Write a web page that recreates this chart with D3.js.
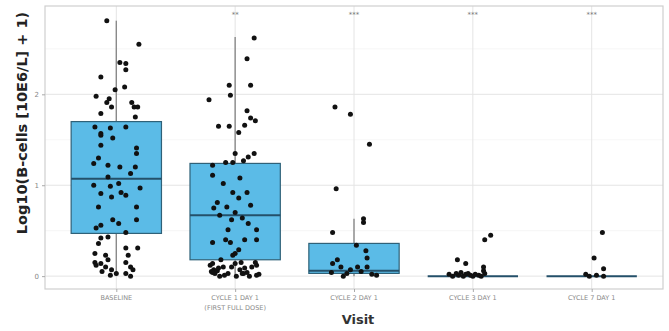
<!DOCTYPE html>
<html>
<head>
<meta charset="utf-8">
<script src="https://cdn.jsdelivr.net/npm/d3@7"></script>
<style>
    body { margin: 0; background: #fff; }
    svg { display: block; }
</style>
</head>
<body>
<div id="chart"></div>
<script>
// visits on the x axis, one array of text lines per tick label
const visits = ["BASELINE", "C1D1", "C2D1", "C3D1", "C7D1"];
const visitLabels = [
    ["BASELINE"],
    ["CYCLE 1 DAY 1", "(FIRST FULL DOSE)"],
    ["CYCLE 2 DAY 1"],
    ["CYCLE 3 DAY 1"],
    ["CYCLE 7 DAY 1"]
];
const signif = ["", "**", "***", "***", "***"];

// box summary per visit
const q1 = [0.47, 0.18, 0.03, 0, 0];
const median = [1.07, 0.67, 0.06, 0, 0];
const q3 = [1.70, 1.24, 0.36, 0, 0];
const whiskerLow = [0, 0, 0, 0, 0];
const whiskerHigh = [2.81, 2.63, 0.63, 0, 0];

const yTicks = [0, 1, 2];

// observed values (log10 scale) and their horizontal jitter (fraction of category spacing)
const baselineValues = [2.81, 2.55, 2.35, 2.34, 2.27, 2.19, 2.05, 2.08, 1.98, 1.95, 1.91, 1.91, 1.86, 1.86, 1.86,
    1.79, 1.75, 1.64, 1.57, 1.63, 1.64, 1.55, 1.52, 1.44, 1.41, 1.35, 1.30, 1.24, 1.22, 1.20, 1.20, 1.13, 1.09,
    1.02, 1.00, 0.99, 0.97, 0.92, 0.89, 0.91, 0.87, 0.76, 0.76, 0.62, 0.58, 0.62, 0.56, 0.53, 0.48, 0.42, 0.43,
    0.36, 0.31, 0.31, 0.25, 0.23, 0.23, 0.15, 0.14, 0.18, 0.15, 0.10, 0.07, 0.03, 0.07, 0.10, 0.12, 0.03, 0.00,
    0.05, 0.01];
const baselineJitter = [-0.08, 0.19, 0.03, 0.08, 0.08, -0.13, -0.01, 0.07, -0.17, -0.06, -0.08, 0.13, -0.04, 0.15, 0.18,
    -0.13, 0.16, -0.18, -0.13, -0.05, 0.08, -0.13, -0.03, -0.13, 0.17, 0.17, -0.15, -0.19, -0.07, 0.03, 0.16, 0.12, -0.07,
    0.02, -0.19, -0.05, 0.20, 0.04, 0.08, -0.13, -0.04, -0.15, 0.17, -0.03, 0.02, 0.17, -0.13, -0.17, 0.08, -0.13, -0.07,
    -0.15, 0.08, 0.18, -0.18, -0.09, 0.10, -0.18, -0.13, -0.07, 0.08, 0.12, -0.04, 0.08, 0.14, -0.09, -0.17, 0.00, 0.12,
    -0.12, -0.05];

const cycle1Values = [2.62, 2.39, 2.10, 2.10, 1.99, 1.94, 1.82, 1.71, 1.74, 1.66, 1.65, 1.65, 1.58, 1.35, 1.35,
    1.31, 1.27, 1.25, 1.22, 1.25, 1.11, 1.02, 1.08, 0.92, 0.92, 0.86, 0.81, 0.75, 0.76, 0.78, 0.67, 0.70, 0.64,
    0.62, 0.58, 0.51, 0.51, 0.37, 0.40, 0.37, 0.40, 0.40, 0.29, 0.23, 0.25, 0.12, 0.07, 0.10, 0.10, 0.07, 0.10,
    0.12, 0.03, 0.03, 0.03, 0.01, 0.00, 0.00, 0.00, 0.05, 0.02, 0.04, 0.01, 0.06, 0.15, 0.18, 0.14, 0.04, 0.09,
    0.14, 0.03, 0.15, 0.09];
const cycle1Jitter = [0.16, 0.10, 0.13, -0.05, -0.04, -0.22, 0.10, 0.17, 0.13, 0.08, -0.14, -0.05, 0.03, 0.00, 0.16,
    0.11, 0.07, -0.08, -0.19, -0.02, -0.19, -0.10, 0.04, 0.10, -0.02, 0.03, -0.15, -0.18, -0.07, 0.13, -0.13, 0.00, 0.06,
    -0.03, 0.11, 0.18, -0.06, -0.19, -0.08, -0.04, 0.08, 0.18, 0.03, -0.02, 0.00, -0.21, -0.18, -0.10, -0.03, 0.04, 0.14,
    0.18, -0.17, -0.06, 0.07, 0.18, -0.13, 0.01, 0.12, -0.20, 0.20, 0.10, -0.09, -0.15, 0.05, -0.12, -0.19, -0.19, -0.14,
    0.00, 0.06, 0.17, 0.08];

const cycle2Values = [1.86, 1.78, 1.45, 0.96, 0.63, 0.59, 0.48, 0.34, 0.28, 0.20, 0.14, 0.18, 0.10, 0.07, 0.10,
    0.05, 0.10, 0.01, 0.04, 0.03, 0.02, 0.00];
const cycle2Jitter = [-0.16, -0.03, 0.13, -0.15, 0.08, 0.08, -0.18, 0.02, 0.10, 0.11, -0.18, -0.14, -0.11, -0.03, 0.03,
    0.06, 0.11, 0.19, -0.19, -0.06, 0.15, -0.09];

const cycle3Values = [0.45, 0.40, 0.18, 0.14, 0.10, 0.06, 0.02, 0.00, 0.03, 0.01, 0.04, 0.00, 0.02, 0.03, 0.01,
    0.00, 0.02, 0.01, 0.00, 0.03];
const cycle3Jitter = [0.15, 0.10, -0.13, -0.06, 0.09, 0.09, -0.20, -0.17, -0.14, -0.12, -0.10, -0.08, -0.06, -0.04, -0.02,
    0.00, 0.02, 0.05, 0.07, 0.10];

const cycle7Values = [0.48, 0.20, 0.08, 0.02, 0.00, 0.01, 0.00];
const cycle7Jitter = [0.09, 0.02, 0.10, -0.05, -0.02, 0.04, 0.10];

const pointValues = [baselineValues, cycle1Values, cycle2Values, cycle3Values, cycle7Values];
const pointJitter = [baselineJitter, cycle1Jitter, cycle2Jitter, cycle3Jitter, cycle7Jitter];

(function () {
    const w = 669, h = 331;
    const panel = { left: 45, right: 663, top: 6, bottom: 289 };

    const svg = d3.select("#chart")
        .append("svg")
        .attr("width", w)
        .attr("height", h)
        .style("font-family", "'DejaVu Sans', sans-serif");

    const xScale = d3.scalePoint()
        .domain(visits)
        .range([panel.left, panel.right])
        .padding(0.6);
    const step = xScale.step();
    const boxW = step * 0.76;

    const yMax = 2.83;
    const yScale = d3.scaleLinear()
        .domain([-yMax * 0.05, yMax * 1.05])
        .range([panel.bottom, panel.top]);

    // panel grid
    const grid = svg.append("g");
    grid.selectAll("line.minor")
        .data([0.5, 1.5, 2.5])
        .enter()
        .append("line")
        .attr("x1", panel.left).attr("x2", panel.right)
        .attr("y1", d => yScale(d)).attr("y2", d => yScale(d))
        .attr("stroke", "#f2f2f2").attr("stroke-width", 0.7);
    grid.selectAll("line.major")
        .data(yTicks)
        .enter()
        .append("line")
        .attr("x1", panel.left).attr("x2", panel.right)
        .attr("y1", d => yScale(d)).attr("y2", d => yScale(d))
        .attr("stroke", "#e4e4e4").attr("stroke-width", 1);
    grid.selectAll("line.vert")
        .data(visits)
        .enter()
        .append("line")
        .attr("x1", d => xScale(d)).attr("x2", d => xScale(d))
        .attr("y1", panel.top).attr("y2", panel.bottom)
        .attr("stroke", "#e4e4e4").attr("stroke-width", 1);

    // boxes
    const boxes = svg.append("g")
        .selectAll("g")
        .data(visits)
        .enter()
        .append("g");

    boxes.append("line")
        .attr("x1", d => xScale(d)).attr("x2", d => xScale(d))
        .attr("y1", (d, i) => yScale(q3[i])).attr("y2", (d, i) => yScale(whiskerHigh[i]))
        .attr("stroke", "#8a8a8a").attr("stroke-width", 1.4);
    boxes.append("line")
        .attr("x1", d => xScale(d)).attr("x2", d => xScale(d))
        .attr("y1", (d, i) => yScale(q1[i])).attr("y2", (d, i) => yScale(whiskerLow[i]))
        .attr("stroke", "#8a8a8a").attr("stroke-width", 1.4);
    boxes.append("rect")
        .attr("x", d => xScale(d) - boxW / 2)
        .attr("width", boxW)
        .attr("y", (d, i) => yScale(q3[i]))
        .attr("height", (d, i) => yScale(q1[i]) - yScale(q3[i]))
        .attr("fill", "#5bbbe7")
        .attr("stroke", "#2f6178")
        .attr("stroke-width", 1.2);
    boxes.append("line")
        .attr("x1", d => xScale(d) - boxW / 2).attr("x2", d => xScale(d) + boxW / 2)
        .attr("y1", (d, i) => yScale(median[i])).attr("y2", (d, i) => yScale(median[i]))
        .attr("stroke", "#24506a").attr("stroke-width", 2);

    // jittered observations
    const points = [];
    visits.forEach((v, i) => {
        pointValues[i].forEach((val, j) => points.push({ visit: v, value: val, jitter: pointJitter[i][j] }));
    });
    svg.append("g")
        .selectAll("circle")
        .data(points)
        .enter()
        .append("circle")
        .attr("cx", d => xScale(d.visit) + d.jitter * step)
        .attr("cy", d => yScale(d.value))
        .attr("r", 2.5)
        .attr("fill", "#111");

    // significance marks
    svg.append("g")
        .selectAll("text")
        .data(visits)
        .enter()
        .append("text")
        .attr("x", d => xScale(d))
        .attr("y", 17)
        .attr("text-anchor", "middle")
        .attr("font-size", 7)
        .attr("fill", "#777")
        .text((d, i) => signif[i]);

    // panel border
    svg.append("rect")
        .attr("x", panel.left).attr("y", panel.top)
        .attr("width", panel.right - panel.left)
        .attr("height", panel.bottom - panel.top)
        .attr("fill", "none")
        .attr("stroke", "#cfcfcf")
        .attr("stroke-width", 1.2);

    // axes
    const yAxis = svg.append("g")
        .attr("transform", `translate(${panel.left},0)`)
        .call(d3.axisLeft(yScale).tickValues(yTicks).tickFormat(d3.format("d")).tickSize(3).tickPadding(3));
    yAxis.select(".domain").remove();
    yAxis.selectAll(".tick line").attr("stroke", "#aaa");
    yAxis.selectAll(".tick text").attr("fill", "#888").attr("font-size", 7).attr("font-family", "'DejaVu Sans', sans-serif");

    const xAxis = svg.append("g")
        .attr("transform", `translate(0,${panel.bottom})`)
        .call(d3.axisBottom(xScale).tickSize(3).tickFormat(""));
    xAxis.select(".domain").remove();
    xAxis.selectAll(".tick line").attr("stroke", "#aaa");

    svg.append("g")
        .selectAll("text")
        .data(visits)
        .enter()
        .append("text")
        .attr("x", d => xScale(d))
        .attr("y", 300)
        .attr("text-anchor", "middle")
        .attr("font-size", 6.5)
        .attr("fill", "#8a8a8a")
        .selectAll("tspan")
        .data((d, i) => visitLabels[i])
        .enter()
        .append("tspan")
        .attr("x", function () { return this.parentNode.getAttribute("x"); })
        .attr("dy", (d, i) => i === 0 ? 0 : 10)
        .text(d => d);

    svg.append("text")
        .attr("x", 358)
        .attr("y", 324)
        .attr("text-anchor", "middle")
        .attr("font-size", 13)
        .attr("font-weight", "bold")
        .attr("fill", "#333")
        .text("Visit");

    svg.append("text")
        .attr("transform", "translate(27,123) rotate(-90)")
        .attr("text-anchor", "middle")
        .attr("font-size", 14.5)
        .attr("font-weight", "bold")
        .attr("fill", "#222")
        .text("Log10(B-cells [10E6/L] + 1)");
})()
</script>
</body>
</html>
